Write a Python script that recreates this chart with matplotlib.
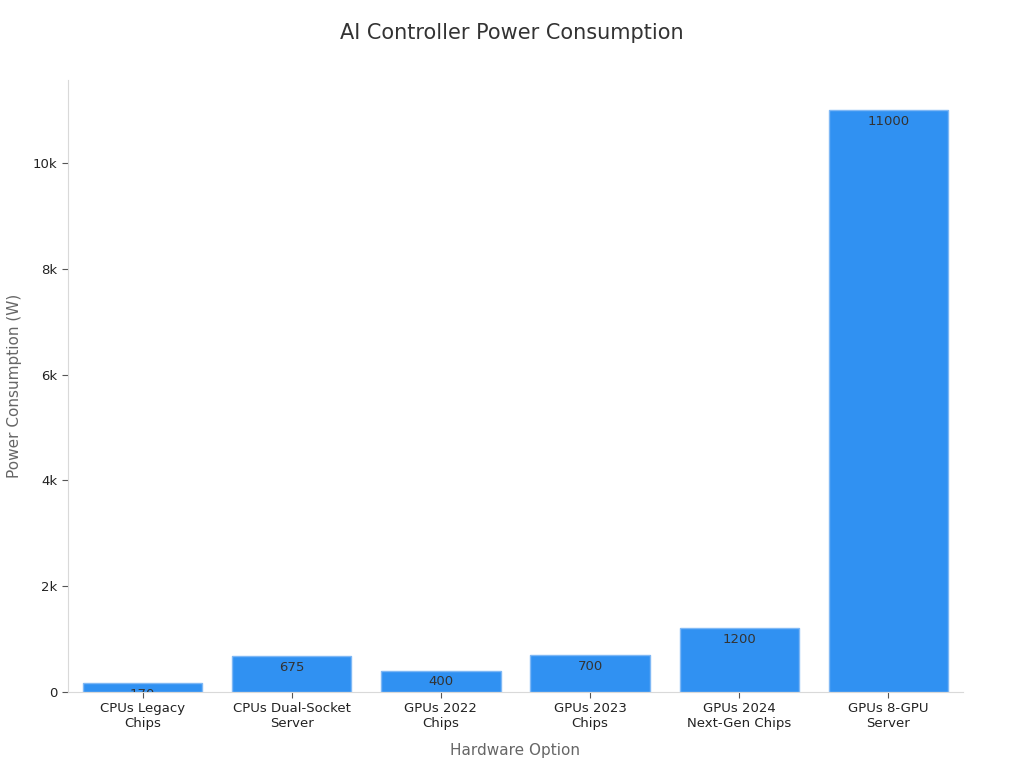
import matplotlib as mpl
mpl.use('Agg')
import matplotlib.pyplot as plt
from matplotlib.ticker import FuncFormatter

categories = ["CPUs Legacy\nChips", "CPUs Dual-Socket\nServer", "GPUs 2022\nChips",
              "GPUs 2023\nChips", "GPUs 2024\nNext-Gen Chips", "GPUs 8-GPU\nServer"]
power = [170, 675, 400, 700, 1200, 11000]

fig = plt.figure(figsize=(10.24, 7.68), dpi=100)
ax = fig.add_axes([0.0664, 0.099, 0.874, 0.797])

bars = ax.bar(range(len(categories)), power, width=0.8, color='#3091f2',
              edgecolor='#7fb8f5', linewidth=1)

# value labels just under the top of each bar, clipped to the bar
for b, v in zip(bars, power):
    t = ax.annotate(str(v), (b.get_x() + b.get_width() / 2, v), xytext=(0, -8),
                    textcoords='offset points', ha='center', va='center',
                    fontsize=9.5, color='#333333')
    t.set_clip_path(b)

ax.set_xlim(-0.5, 5.5)
ax.set_ylim(0, 11570)
ax.set_yticks([0, 2000, 4000, 6000, 8000, 10000])
ax.yaxis.set_major_formatter(FuncFormatter(lambda x, p: '0' if x == 0 else '%dk' % (x / 1000)))
ax.set_xticks(range(len(categories)))
ax.set_xticklabels(categories)

for s in ['top', 'right']:
    ax.spines[s].set_visible(False)
for s in ['left', 'bottom']:
    ax.spines[s].set_color('#d9d9d9')
ax.tick_params(axis='both', colors='#555555', labelcolor='#222222', labelsize=9.5, length=4)

ax.set_xlabel('Hardware Option', fontsize=11, color='#666666', labelpad=9)
ax.set_ylabel('Power Consumption (W)', fontsize=11, color='#666666', labelpad=8)
fig.suptitle('AI Controller Power Consumption', fontsize=15, color='#333333', y=0.97)

fig.savefig('out.png', dpi=100)
